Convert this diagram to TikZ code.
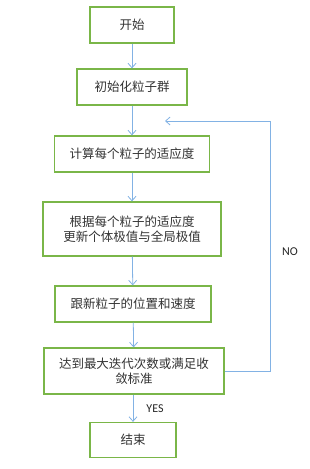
\documentclass[tikz,border=0pt]{standalone}
\usepackage{fontspec}
\setmainfont{Carlito}
\newfontfamily\cjk{Noto Sans CJK SC}
\usetikzlibrary{arrows.meta,positioning}

\definecolor{boxgreen}{RGB}{122,182,72}
\definecolor{flowblue}{RGB}{130,178,228}

\begin{document}
\begin{tikzpicture}[
    x=1pt, y=-1pt,
    >={Straight Barb[length=4.5pt,width=8pt]},
    stepbox/.style={draw=boxgreen, line width=1.3pt, fill=white,
      font=\cjk\fontsize{12.5}{15.5}\selectfont, text=black!80,
      align=center, inner sep=2pt},
    flow/.style={->, draw=flowblue, line width=0.8pt},
    tag/.style={font=\fontsize{12}{14}\selectfont, text=black!85},
  ]
  \useasboundingbox (0,0) rectangle (309,469);

  % Boxes
  \node[stepbox, minimum width=84pt, minimum height=36pt] (start) at (132,25) {开始};
  \node[stepbox, minimum width=110pt, minimum height=36pt] (init) at (132,87) {初始化粒子群};
  \node[stepbox, minimum width=155pt, minimum height=36pt] (fitness) at (132,154) {计算每个粒子的适应度};
  \node[stepbox, minimum width=178pt, minimum height=54pt] (update) at (132,229)
    {根据每个粒子的适应度\\更新个体极值与全局极值};
  \node[stepbox, minimum width=156pt, minimum height=36pt] (move) at (133,304) {跟新粒子的位置和速度};
  \node[stepbox, minimum width=180pt, minimum height=46pt] (check) at (134,371)
    {达到最大迭代次数或满足收\\敛标准};
  \node[stepbox, minimum width=86pt, minimum height=35pt] (stop) at (133,440) {结束};

  % Main flow
  \draw[flow] (start) -- (init);
  \draw[flow] (init) -- (fitness);
  \draw[flow] (fitness) -- (update);
  \draw[flow] (update) -- (move);
  \draw[flow] (move) -- (check);
  \draw[flow] (check.south -| stop.north) -- (stop.north);

  % Loop back
  \coordinate (turn) at (270,121);
  \coordinate (back) at (165,121);
  \draw[flow] (check.east) -| (turn) -- (back);

  % Labels
  \node[tag] (no) at (290,252) {NO};
  \node[tag] (yes) at (155,409) {YES};
\end{tikzpicture}
\end{document}
